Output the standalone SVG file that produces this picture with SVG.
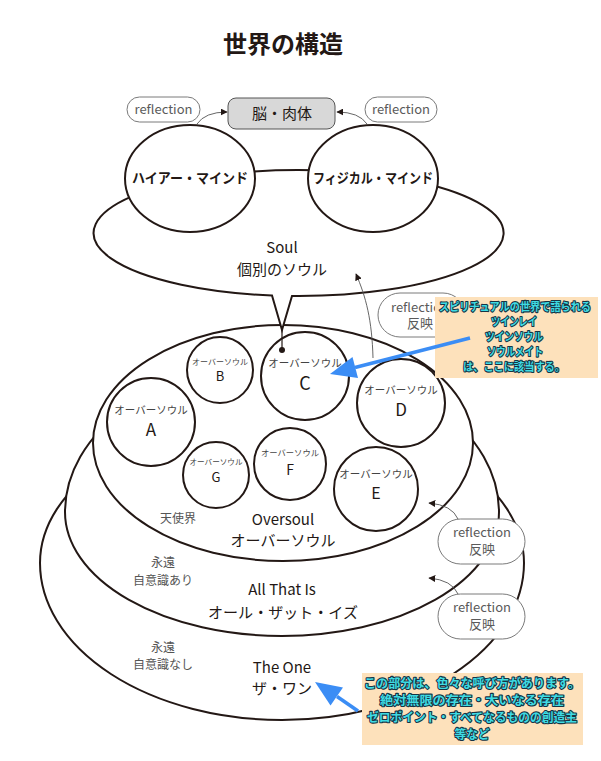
<svg xmlns="http://www.w3.org/2000/svg" width="601" height="761" viewBox="0 0 601 761">
<defs>
<style>
text{font-family:"Noto Sans CJK JP","Noto Sans",sans-serif;text-anchor:middle}
.ln{fill:#fff;stroke:#231815;stroke-width:2}
.pill{fill:#fff;stroke:#7a7a7a;stroke-width:1}
.pt{font-size:13px;fill:#5a5a5a}
.lbl{font-size:15px;fill:#231815}
.sm{font-size:12px;fill:#555}
.os{fill:#444}
.let{fill:#231815}
.call{fill:#fde1bb}
.ct{font-weight:bold;fill:#3fdbe3;stroke:#163444;stroke-width:2.2;paint-order:stroke;stroke-linejoin:round}
.thin{fill:none;stroke:#555;stroke-width:0.9}
.blue{fill:none;stroke:#3b8df5;stroke-width:3.5}
.bh{fill:#3b8df5}
</style>
<marker id="ah" viewBox="0 0 10 10" refX="9" refY="5" markerWidth="7" markerHeight="7" orient="auto" markerUnits="userSpaceOnUse">
<path d="M0,0 L10,5 L0,10 Z" fill="#231815"/>
</marker>
<clipPath id="cl1"><rect x="370" y="285" width="65" height="60"/></clipPath>
</defs>
<rect width="601" height="761" fill="#fff"/>
<text x="283" y="53" style="font-size:24px;font-weight:bold;fill:#231815">世界の構造</text>

<g id="the-one"><path class="ln" d="M40,563 A242,147 0 0 1 524,563 A242,157 0 0 1 40,563 Z"/>
<text class="sm" x="163" y="652">永遠</text><text class="sm" x="163" y="669">自意識なし</text>
<text class="lbl" x="282" y="673">The One</text><text class="lbl" x="282" y="694">ザ・ワン</text></g>

<g id="all-that-is"><path class="ln" d="M65,512 A217,150 0 0 1 499,512 A217,124 0 0 1 65,512 Z"/>
<text class="sm" x="163" y="567">永遠</text><text class="sm" x="163" y="585">自意識あり</text>
<text class="lbl" x="282" y="595">All That Is</text><text class="lbl" x="283" y="618" textLength="150" lengthAdjust="spacingAndGlyphs">オール・ザット・イズ</text></g>

<g id="oversoul"><ellipse class="ln" cx="283" cy="443" rx="190" ry="118"/>
<text class="sm" x="178" y="523">天使界</text>
<text class="lbl" x="283" y="525">Oversoul</text><text class="lbl" x="283" y="546">オーバーソウル</text></g>

<g id="os-a"><circle class="ln" cx="151" cy="422" r="44"/><text class="os" x="151" y="414" font-size="10.5">オーバーソウル</text><text class="let" x="151" y="436" font-size="17">A</text></g>
<g id="os-b"><circle class="ln" cx="220" cy="370" r="33"/><text class="os" x="220" y="365" font-size="8">オーバーソウル</text><text class="let" x="220" y="381" font-size="13">B</text></g>
<g id="os-c"><circle class="ln" cx="305" cy="376" r="44"/><text class="os" x="305" y="367" font-size="10.5">オーバーソウル</text><text class="let" x="305" y="390" font-size="18">C</text></g>
<g id="os-d"><circle class="ln" cx="401" cy="403" r="44"/><text class="os" x="401" y="394" font-size="10.5">オーバーソウル</text><text class="let" x="401" y="416" font-size="17">D</text></g>
<g id="os-e"><circle class="ln" cx="376" cy="489" r="42"/><text class="os" x="376" y="478" font-size="10.5">オーバーソウル</text><text class="let" x="376" y="499" font-size="16">E</text></g>
<g id="os-f"><circle class="ln" cx="290" cy="464" r="36"/><text class="os" x="290" y="456" font-size="8.3">オーバーソウル</text><text class="let" x="290" y="475" font-size="14">F</text></g>
<g id="os-g"><circle class="ln" cx="216" cy="475" r="33"/><text class="os" x="216" y="465" font-size="7.6">オーバーソウル</text><text class="let" x="216" y="482" font-size="13">G</text></g>

<g id="soul"><path class="ln" d="M272,295.5 A205,63 0 1 1 292,296 L282,330 Z"/>
<text class="lbl" x="282" y="253">Soul</text><text class="lbl" x="282" y="275">個別のソウル</text></g>

<g id="higher-mind"><ellipse class="ln" cx="190" cy="178.5" rx="65" ry="53.5"/><text x="190" y="183" textLength="116" lengthAdjust="spacingAndGlyphs" style="font-size:14px;font-weight:bold;fill:#231815">ハイアー・マインド</text></g>
<g id="physical-mind"><ellipse class="ln" cx="373" cy="178.5" rx="65" ry="53.5"/><text x="373" y="183" textLength="120" lengthAdjust="spacingAndGlyphs" style="font-size:14px;font-weight:bold;fill:#231815">フィジカル・マインド</text></g>

<g id="body"><rect x="228" y="98" width="107" height="31" rx="8" fill="#d8d8d8" stroke="#555" stroke-width="1"/><text x="282" y="119" style="font-size:15px;fill:#231815">脳・肉体</text></g>

<g id="refl-l"><rect class="pill" x="127" y="97" width="73" height="25" rx="12.5"/><text class="pt" x="163.5" y="114">reflection</text></g>
<g id="refl-r"><rect class="pill" x="365" y="97" width="72" height="25" rx="12.5"/><text class="pt" x="401" y="114">reflection</text></g>
<g id="refl-1"><rect class="pill" x="378" y="293" width="87" height="44" rx="22"/><g clip-path="url(#cl1)"><text class="pt" x="420" y="312">reflection</text><text class="pt" x="420" y="328">反映</text></g></g>
<g id="refl-2"><rect class="pill" x="438" y="519" width="87" height="45" rx="22.5"/><text class="pt" x="482" y="537">reflection</text><text class="pt" x="482" y="554">反映</text></g>
<g id="refl-3"><rect class="pill" x="438" y="594" width="87" height="45" rx="22.5"/><text class="pt" x="482" y="612">reflection</text><text class="pt" x="482" y="629">反映</text></g>

<g id="connectors">
<path class="thin" d="M197,124 Q205,112 227,112" marker-end="url(#ah)"/>
<path class="thin" d="M367,124 Q359,112 337,112" marker-end="url(#ah)"/>
<path class="thin" d="M373,358 C372,320 366,297 356,274" marker-end="url(#ah)"/>
<path class="thin" d="M458,519 Q452,505 429,503" marker-end="url(#ah)"/>
<path class="thin" d="M458,594 Q452,580 429,578" marker-end="url(#ah)"/>
<line x1="282" y1="330" x2="282" y2="350" stroke="#231815" stroke-width="1.2"/>
<circle cx="282" cy="350" r="3" fill="#231815"/>
</g>

<g id="callout-1"><rect class="call" x="435" y="297" width="163" height="81"/>
<text class="ct" x="515" y="311" font-size="11.5" textLength="152" lengthAdjust="spacingAndGlyphs">スピリチュアルの世界で語られる</text>
<text class="ct" x="514" y="326" font-size="11.5" textLength="46" lengthAdjust="spacingAndGlyphs">ツインレイ</text>
<text class="ct" x="514" y="341" font-size="11.5" textLength="58" lengthAdjust="spacingAndGlyphs">ツインソウル</text>
<text class="ct" x="515" y="356" font-size="11.5" textLength="56" lengthAdjust="spacingAndGlyphs">ソウルメイト</text>
<text class="ct" x="514" y="371" font-size="11.5" textLength="102" lengthAdjust="spacingAndGlyphs">は、ここに該当する。</text></g>

<g id="callout-2"><rect class="call" x="362" y="673" width="221" height="72"/>
<text class="ct" x="472" y="688" font-size="12.5" textLength="216" lengthAdjust="spacingAndGlyphs">この部分は、色々な呼び方があります。</text>
<text class="ct" x="472" y="705" font-size="12.5" textLength="184" lengthAdjust="spacingAndGlyphs">絶対無限の存在・大いなる存在</text>
<text class="ct" x="472" y="722" font-size="12.5" textLength="210" lengthAdjust="spacingAndGlyphs">ゼロポイント・すべてなるものの創造主</text>
<text class="ct" x="472" y="739" font-size="12.5" textLength="35" lengthAdjust="spacingAndGlyphs">等など</text></g>

<g id="blue-arrows">
<line class="blue" x1="470" y1="338" x2="355" y2="367.5"/>
<polygon class="bh" points="330,374 358,378 352.5,357"/>
<line class="blue" x1="358" y1="711" x2="337" y2="696.5"/>
<polygon class="bh" points="315,682 343,687.5 330.5,705.5"/>
</g>
</svg>
